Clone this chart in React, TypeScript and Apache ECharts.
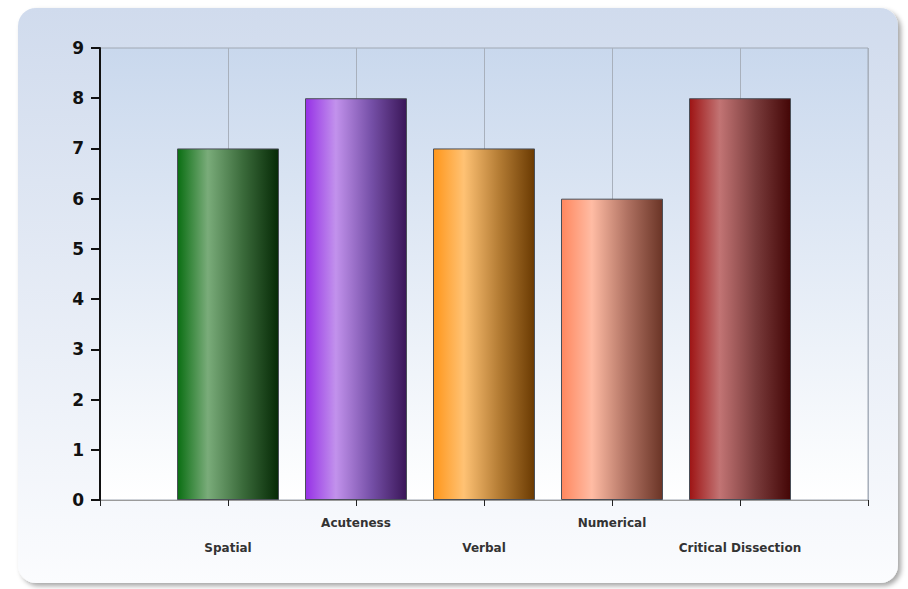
import React, { useEffect, useRef } from "react";
import * as echarts from "echarts";

const categories = ["Spatial", "Acuteness", "Verbal", "Numerical", "Critical Dissection"];
const scores = [7, 8, 7, 6, 8];
const yTicks = { min: 0, max: 9, interval: 1 };

const barPalettes = [
  ["#0a6e12", "#7aac7a", "#3a6a3a", "#062a06"],
  ["#9630e6", "#c292ec", "#7650a8", "#3a1658"],
  ["#ff961a", "#ffc274", "#b47c34", "#6a3a02"],
  ["#ff875e", "#ffbca4", "#b07262", "#6a3426"],
  ["#9e1414", "#c27474", "#7a3c3c", "#440606"],
];

function grad(c: string[]) {
  return new echarts.graphic.LinearGradient(0, 0, 1, 0, [
    { offset: 0, color: c[0] },
    { offset: 0.3, color: c[1] },
    { offset: 0.65, color: c[2] },
    { offset: 1, color: c[3] },
  ]);
}

export default function App() {
  const ref = useRef<HTMLDivElement>(null);
  useEffect(() => {
    if (!ref.current) return;
    const chart = echarts.init(ref.current, undefined, { renderer: "svg" });
    const xData = ["", ...categories, ""];
    const seriesData: any[] = ["-"];
    scores.forEach((v, i) => {
      seriesData.push({
        value: v,
        itemStyle: { color: grad(barPalettes[i]), borderColor: "#4a4f58", borderWidth: 1 },
      });
    });
    seriesData.push("-");
    chart.setOption({
      animation: false,
      graphic: [
        {
          type: "rect",
          z: -10,
          silent: true,
          shape: { x: 18, y: 8, width: 880, height: 575, r: 18 },
          style: {
            fill: new echarts.graphic.LinearGradient(0, 0, 0, 1, [
              { offset: 0, color: "#d0dbed" },
              { offset: 1, color: "#fbfcfe" },
            ]),
            shadowBlur: 5,
            shadowOffsetX: 3,
            shadowOffsetY: 3,
            shadowColor: "rgba(0,0,0,0.35)",
          },
        },
      ],
      grid: {
        left: 100,
        right: 40,
        top: 48,
        bottom: 89,
        show: true,
        borderColor: "#a0a8b4",
        borderWidth: 1,
        backgroundColor: new echarts.graphic.LinearGradient(0, 0, 0, 1, [
          { offset: 0, color: "#c9d8ed" },
          { offset: 1, color: "#ffffff" },
        ]),
      },
      xAxis: {
        type: "category",
        data: xData,
        boundaryGap: false,
        axisLine: { lineStyle: { color: "#9a9a9a", width: 1 } },
        axisTick: { show: true, length: 6, lineStyle: { color: "#222" }, interval: 0 },
        splitLine: { show: true, interval: 0, lineStyle: { color: "#a8b0bc", width: 1 } },
        axisLabel: {
          interval: 0,
          margin: 17,
          formatter: (v: string, i: number) => (i % 2 === 1 ? `{low|${v}}` : `{high|${v}}`),
          rich: {
            low: { fontFamily: "DejaVu Sans", fontWeight: "bold", fontSize: 12, color: "#333", padding: [25, 0, 0, 0] },
            high: { fontFamily: "DejaVu Sans", fontWeight: "bold", fontSize: 12, color: "#333" },
          },
        },
      },
      yAxis: {
        type: "value",
        min: yTicks.min,
        max: yTicks.max,
        interval: yTicks.interval,
        axisLine: { show: true, lineStyle: { color: "#111", width: 2 } },
        axisTick: { show: true, length: 9, lineStyle: { color: "#111", width: 2 } },
        splitLine: { show: false },
        axisLabel: {
          margin: 16,
          fontFamily: "DejaVu Sans",
          fontWeight: "bold",
          fontSize: 17,
          color: "#111",
        },
      },
      series: [
        {
          type: "bar",
          data: seriesData,
          barWidth: 102,
        },
      ],
    });
    return () => chart.dispose();
  }, []);
  return (
    <div
      ref={ref}
      style={{ position: "absolute", left: 0, top: 0, width: 908, height: 589 }}
    />
  );
}
